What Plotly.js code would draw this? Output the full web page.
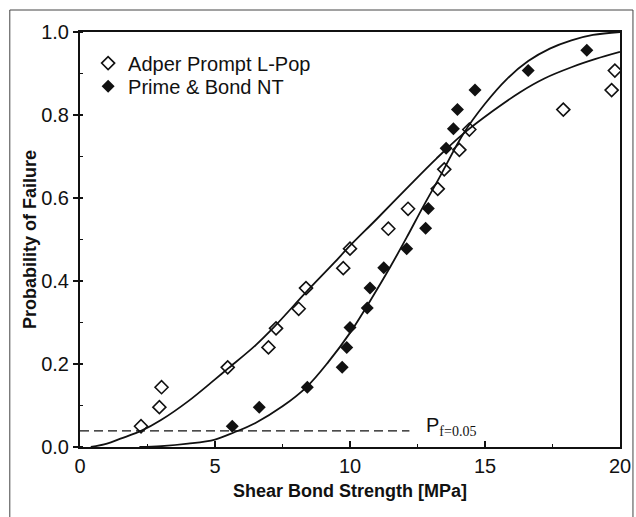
<!DOCTYPE html>
<html>
<head>
<meta charset="utf-8">
<script src="https://cdn.plot.ly/plotly-3.0.1.min.js"></script>
<style>
html,body{margin:0;padding:0;background:#fff;}
#chart{width:636px;height:517px;}
</style>
</head>
<body>
<div id="chart"></div>
<script>
// Measured points: Adper Prompt L-Pop (open diamonds)
const adperX = [2.26, 2.94, 3.02, 5.47, 6.98, 7.26, 8.10, 8.37, 9.75, 10.0, 11.42, 12.15, 13.25, 13.49, 14.05, 14.42, 17.9, 19.69, 19.81];
const adperY = [0.050, 0.096, 0.144, 0.192, 0.240, 0.286, 0.333, 0.383, 0.431, 0.478, 0.526, 0.574, 0.622, 0.669, 0.716, 0.765, 0.813, 0.860, 0.907];

// Measured points: Prime & Bond NT (filled diamonds)
const primeX = [5.64, 6.64, 8.42, 9.71, 9.88, 10.0, 10.64, 10.74, 11.25, 12.1, 12.8, 12.9, 13.56, 13.83, 13.98, 14.63, 16.6, 18.77];
const primeY = [0.050, 0.096, 0.144, 0.192, 0.240, 0.288, 0.335, 0.383, 0.432, 0.478, 0.527, 0.575, 0.720, 0.767, 0.813, 0.860, 0.907, 0.956];

// Fitted curves
const adperFitX = [0.4, 1.0, 1.5, 2.3, 3.0, 4.0, 5.0, 5.5, 6.5, 7.2, 8.4, 9.4, 10.0, 11.0, 12.2, 13.2, 14.2, 15.3, 16.3, 17.2, 18.2, 19.1, 20.0];
const adperFitY = [0.0, 0.008, 0.02, 0.04, 0.065, 0.11, 0.163, 0.19, 0.245, 0.29, 0.375, 0.443, 0.485, 0.55, 0.63, 0.695, 0.755, 0.81, 0.855, 0.888, 0.915, 0.935, 0.952];

const primeFitX = [2.2, 3.0, 4.0, 5.0, 5.7, 6.5, 7.5, 8.4, 9.2, 10.0, 10.8, 11.5, 12.1, 12.7, 13.3, 14.2, 15.0, 15.8, 16.6, 17.4, 18.2, 19.0, 20.0];
const primeFitY = [0.0, 0.002, 0.008, 0.018, 0.035, 0.058, 0.098, 0.145, 0.205, 0.275, 0.358, 0.435, 0.505, 0.578, 0.648, 0.755, 0.827, 0.886, 0.93, 0.96, 0.98, 0.993, 1.0];

// Reference line P_f = 0.05
const refLineX = [0, 12.2];
const refLineY = [0.039, 0.039];

const xTicks = [0, 5, 10, 15, 20];
const yTicks = [0.0, 0.2, 0.4, 0.6, 0.8, 1.0];

const FONT = "Liberation Sans, Arial, Helvetica, sans-serif";

const traces = [
  {x: adperFitX, y: adperFitY, mode: 'lines', line: {color: '#111', width: 1.8, shape: 'spline'}, showlegend: false, hoverinfo: 'skip'},
  {x: primeFitX, y: primeFitY, mode: 'lines', line: {color: '#111', width: 1.8, shape: 'spline'}, showlegend: false, hoverinfo: 'skip'},
  {x: refLineX, y: refLineY, mode: 'lines', line: {color: '#111', width: 1.3, dash: '9px,5px'}, showlegend: false, hoverinfo: 'skip'},
  {x: adperX, y: adperY, mode: 'markers', name: 'Adper Prompt L-Pop', legend: 'legend',
   marker: {symbol: 'diamond-open', size: 10, color: '#111', line: {width: 1.6, color: '#111'}}},
  {x: primeX, y: primeY, mode: 'markers', name: 'Prime &amp; Bond NT', legend: 'legend2',
   marker: {symbol: 'diamond', size: 10, color: '#111', line: {width: 0}}}
];

const legendBase = {x: 0.015, xanchor: 'left', yanchor: 'top', bgcolor: 'rgba(0,0,0,0)',
                    font: {family: FONT, size: 20, color: '#111'}, itemwidth: 30};

const layout = {
  width: 636, height: 517,
  margin: {l: 80, r: 16, t: 32, b: 70},
  paper_bgcolor: '#fff', plot_bgcolor: '#fff',
  font: {family: FONT, color: '#111', size: 20},
  showlegend: true,
  legend: Object.assign({}, legendBase, {y: 0.972}),
  legend2: Object.assign({}, legendBase, {y: 0.916}),
  xaxis: {
    range: [0, 20], tickvals: xTicks, ticktext: xTicks.map(String),
    showgrid: false, zeroline: false, showline: true, mirror: true, linewidth: 2, linecolor: '#111',
    ticks: 'inside', ticklen: 6, tickwidth: 1.5, tickcolor: '#111',
    minor: {dtick: 2.5, ticks: 'inside', ticklen: 3, tickwidth: 1.2, tickcolor: '#111'},
    tickfont: {family: FONT, size: 20, color: '#111'},
    title: {text: '<b>Shear Bond Strength [MPa]</b>', font: {family: FONT, size: 18, color: '#111'}, standoff: 8}
  },
  yaxis: {
    range: [0, 1], tickvals: yTicks, ticktext: yTicks.map(v => v.toFixed(1)),
    showgrid: false, zeroline: false, showline: true, mirror: true, linewidth: 2, linecolor: '#111',
    ticks: 'outside', ticklen: 5, tickwidth: 1.5, tickcolor: '#111',
    minor: {dtick: 0.1, ticks: 'inside', ticklen: 3, tickwidth: 1.2, tickcolor: '#111'},
    tickfont: {family: FONT, size: 20, color: '#111'},
    title: {text: '<b>Probability of Failure</b>', font: {family: FONT, size: 18, color: '#111'}, standoff: 0}
  },
  annotations: [
    {x: 12.75, y: 0.05, xref: 'x', yref: 'y', xanchor: 'left', yanchor: 'middle', showarrow: false,
     text: "P<sub><span style='font-family:Liberation Serif, Times New Roman, serif'>f=0.05</span></sub>",
     font: {family: FONT, size: 20, color: '#111'}}
  ],
  shapes: [
    {type: 'rect', xref: 'paper', yref: 'paper', x0: -0.13, x1: 1.024, y0: -0.3, y1: 1.053,
     line: {color: '#444', width: 1}, fillcolor: 'rgba(0,0,0,0)', layer: 'below'}
  ]
};

Plotly.newPlot('chart', traces, layout, {displayModeBar: false, staticPlot: true});
</script>
</body>
</html>
